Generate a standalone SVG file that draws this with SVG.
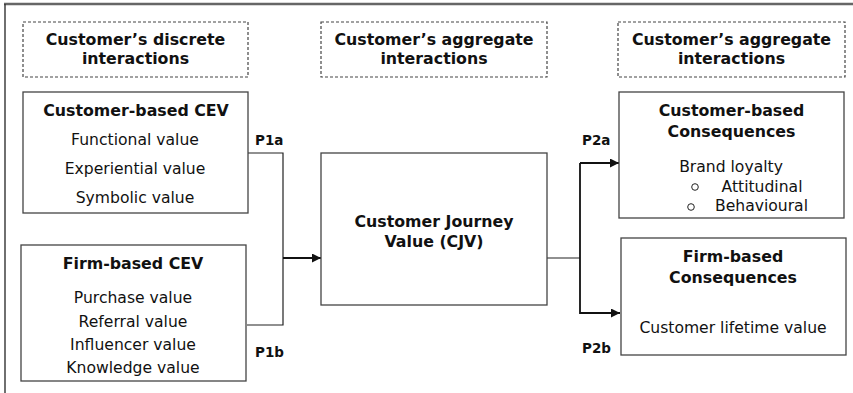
<svg xmlns="http://www.w3.org/2000/svg" width="853" height="393" viewBox="0 0 853 393">
  <style>
    .frame { fill: none; }
    .box { fill: #fff; stroke: #444; stroke-width: 1.3; }
    .dash { fill: #fff; stroke: #444; stroke-width: 1.2; stroke-dasharray: 3 2; }
    .conn { fill: none; stroke: #222; stroke-width: 1.2; }
    .arrow { fill: none; stroke: #111; stroke-width: 1.8; }
    text { font-family: "DejaVu Sans", Verdana, sans-serif; fill: #111; text-anchor: middle; }
    .h { font-weight: bold; font-size: 15.8px; }
    .t { font-size: 15.6px; }
    .lbl { font-weight: bold; font-size: 13.5px; text-anchor: start; }
  </style>
  <defs>
    <marker id="ah" viewBox="0 0 10 10" refX="10" refY="5" markerWidth="9" markerHeight="9" markerUnits="userSpaceOnUse" orient="auto">
      <path d="M0,0 L10,5 L0,10 z" fill="#111"/>
    </marker>
  </defs>

  <!-- page frame -->
  <rect x="0" y="0" width="853" height="393" fill="#fff"/>
  <line class="frame" x1="4" y1="4" x2="853" y2="4" stroke-width="2.6" stroke="#666"/>
  <line class="frame" x1="5" y1="4" x2="5" y2="393" stroke-width="1.4" stroke="#333"/>

  <!-- stage headers -->
  <g id="hdr-discrete">
    <rect class="dash" x="23" y="22" width="225" height="55"/>
    <text class="h" x="135.5" y="45">Customer’s discrete</text>
    <text class="h" x="135.5" y="64">interactions</text>
  </g>
  <g id="hdr-aggregate-1">
    <rect class="dash" x="321" y="22" width="226" height="55"/>
    <text class="h" x="434" y="45">Customer’s aggregate</text>
    <text class="h" x="434" y="64">interactions</text>
  </g>
  <g id="hdr-aggregate-2">
    <rect class="dash" x="618" y="22" width="227" height="55"/>
    <text class="h" x="731.5" y="45">Customer’s aggregate</text>
    <text class="h" x="731.5" y="64">interactions</text>
  </g>

  <!-- connectors -->
  <g id="connectors">
    <polyline class="conn" points="248,153 283,153 283,325 247,325"/>
    <line class="arrow" x1="283" y1="258" x2="321" y2="258" marker-end="url(#ah)"/>
    <polyline class="conn" points="547,258 580,258"/>
    <polyline class="arrow" points="580,163 580,313 620,313" marker-end="url(#ah)"/>
    <line class="arrow" x1="580" y1="163" x2="619" y2="163" marker-end="url(#ah)"/>
  </g>

  <!-- path labels -->
  <g id="labels">
    <text class="lbl" x="255" y="145">P1a</text>
    <text class="lbl" x="255" y="357">P1b</text>
    <text class="lbl" x="582" y="145">P2a</text>
    <text class="lbl" x="582" y="353">P2b</text>
  </g>

  <g id="customer-cev">
    <rect class="box" x="23" y="92" width="225" height="121"/>
    <text class="h" x="136" y="116">Customer-based CEV</text>
    <text class="t" x="135" y="145">Functional value</text>
    <text class="t" x="135" y="174">Experiential value</text>
    <text class="t" x="135" y="203">Symbolic value</text>
  </g>

  <g id="firm-cev">
    <rect class="box" x="21" y="245" width="225" height="136"/>
    <text class="h" x="133" y="269">Firm-based CEV</text>
    <text class="t" x="133" y="303">Purchase value</text>
    <text class="t" x="133" y="327">Referral value</text>
    <text class="t" x="133" y="350">Influencer value</text>
    <text class="t" x="133" y="373">Knowledge value</text>
  </g>

  <g id="cjv">
    <rect class="box" x="321" y="153" width="226" height="152"/>
    <text class="h" x="434" y="227">Customer Journey</text>
    <text class="h" x="434" y="247">Value (CJV)</text>
  </g>

  <g id="customer-consequences">
    <rect class="box" x="619" y="92" width="225" height="126"/>
    <text class="h" x="731.5" y="116">Customer-based</text>
    <text class="h" x="731.5" y="137">Consequences</text>
    <text class="t" x="731" y="172">Brand loyalty</text>
    <circle cx="695" cy="187" r="3.3" fill="none" stroke="#222" stroke-width="1"/>
    <text class="t" x="762" y="192">Attitudinal</text>
    <circle cx="691" cy="207" r="3.3" fill="none" stroke="#222" stroke-width="1"/>
    <text class="t" x="761.5" y="211">Behavioural</text>
  </g>

  <g id="firm-consequences">
    <rect class="box" x="621" y="238" width="225" height="117"/>
    <text class="h" x="733" y="262">Firm-based</text>
    <text class="h" x="733" y="283">Consequences</text>
    <text class="t" x="733" y="333">Customer lifetime value</text>
  </g>
</svg>
